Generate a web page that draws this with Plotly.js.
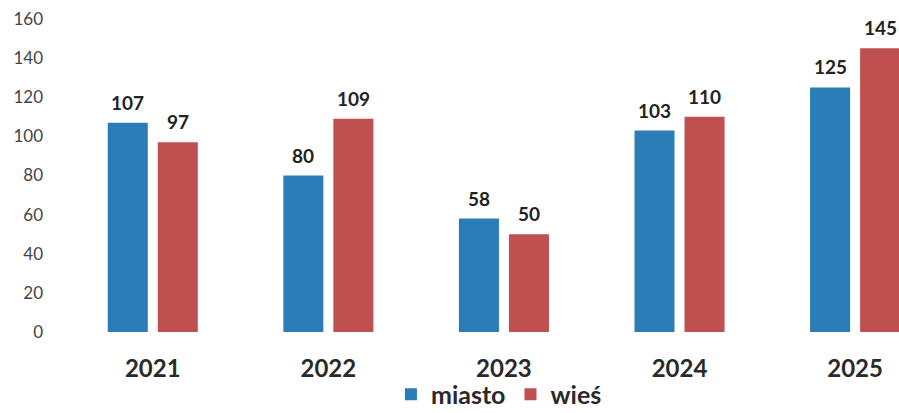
<!DOCTYPE html>
<html><head><meta charset="utf-8">
<script src="https://cdn.plot.ly/plotly-3.0.1.min.js"></script>
<style>html,body{margin:0;padding:0;background:#fff}</style>
</head><body>
<div id="chart" style="width:899px;height:413px"></div>
<script>
const years = ['2021','2022','2023','2024','2025'];
const miasto = [107, 80, 58, 103, 125];
const wies = [97, 109, 50, 110, 145];
const seriesNames = ['miasto', 'wieś'];
const yTicks = [0,20,40,60,80,100,120,140,160];

const common = {type:'bar', hoverinfo:'skip'};
const data = [
  Object.assign({}, common, {x:years, y:miasto, name:seriesNames[0], marker:{color:'#2a7db6'}}),
  Object.assign({}, common, {x:years, y:wies, name:seriesNames[1], marker:{color:'#c0504f'}})
];
const labelFont = {family:'Lato, sans-serif', size:19, color:'#222', weight:'bold'};
function labels(vals, shift) {
  return vals.map((v, i) => ({x:i, y:v, xref:'x', yref:'y', text:String(v), showarrow:false,
    xanchor:'center', yanchor:'bottom', xshift:shift, yshift:7, font:labelFont}));
}
const layout = {
  width:899, height:413,
  margin:{l:65, r:0, t:19, b:81},
  paper_bgcolor:'#fff', plot_bgcolor:'#fff',
  barmode:'group', bargap:0.43, bargroupgap:0.2,
  font:{family:'Lato, sans-serif', color:'#333'},
  xaxis:{type:'category', range:[-0.5, 4.25], showgrid:false, zeroline:false, showline:false, ticks:'',
    tickfont:{size:24, color:'#2a2a2a', weight:'bold'}, ticklabelstandoff:20},
  yaxis:{range:[0,160], tickvals:yTicks, showgrid:false, zeroline:false, showline:false, ticks:'',
    tickfont:{size:17, color:'#444'}, ticklabelstandoff:21},
  annotations: labels(miasto, -25).concat(labels(wies, 25)),
  showlegend:true,
  legend:{orientation:'h', xref:'container', yref:'container', x:0.555, xanchor:'center', y:0.045, yanchor:'middle',
    bgcolor:'rgba(0,0,0,0)', font:{size:25, color:'#2a2a2a', weight:'bold'}, itemwidth:30, tracegroupgap:0}
};
Plotly.newPlot('chart', data, layout, {staticPlot:true});
</script>
</body></html>
